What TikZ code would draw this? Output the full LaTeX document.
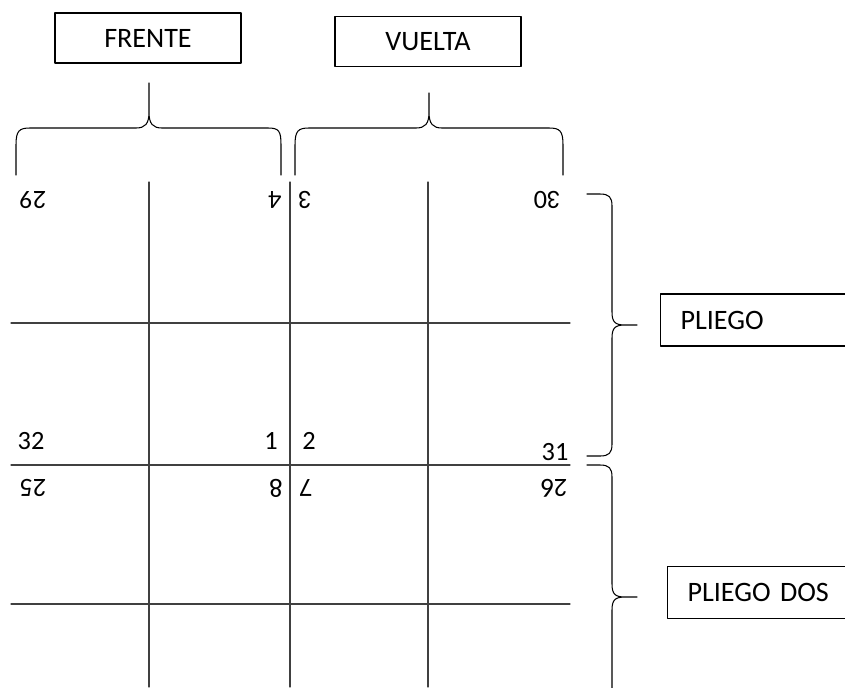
\documentclass[tikz,border=0pt]{standalone}
\usepackage{fontspec}
\setmainfont{Carlito}
\begin{document}
\begin{tikzpicture}[x=0.02cm, y=-0.02cm, line join=round, line cap=round,
  caja/.style={draw, line width=0.6pt, minimum width=3.72cm, minimum height=1cm, font=\fontsize{16}{19}\selectfont},
  lateral/.style={draw, line width=0.6pt, minimum height=1.04cm, text width=4cm, align=left, inner xsep=0.4cm, anchor=west, font=\fontsize{16}{19}\selectfont},
  num/.style={font=\fontsize{15}{18}\selectfont, inner sep=0pt},
  inv/.style={num, rotate=180},
  corchete/.style={line width=0.6pt},
  linea/.style={line width=0.7pt, black!75}]
\useasboundingbox (0,0) rectangle (845,687);
% cajas
\node[caja] (frente) at (148,38) {FRENTE};
\node[caja] (vuelta) at (428,41.5) {VUELTA};
\node[lateral] (pliego) at (660,320) {PLIEGO};
\node[lateral] (pliegodos) at (667,592.5) {PLIEGO DOS};
% llaves de arriba
\draw[corchete] (16,175) -- (16,145) .. controls (16,131) and (19,128) .. (30,128) -- (136,128) .. controls (145,128) and (149,124) .. (149,112) -- (149,83) -- (149,112) .. controls (149,124) and (153,128) .. (162,128) -- (268,128) .. controls (279,128) and (281,131) .. (281,145) -- (281,175);
\draw[corchete] (295,175) -- (295,145) .. controls (295,131) and (298,128) .. (309,128) -- (416,128) .. controls (425,128) and (429,124) .. (429,112) -- (429,93) -- (429,112) .. controls (429,124) and (433,128) .. (442,128) -- (549,128) .. controls (560,128) and (563,131) .. (563,145) -- (563,175);
% llaves de la derecha
\draw[corchete] (587,194) -- (600,194) .. controls (609,194) and (612,197) .. (612,206) -- (612,312) .. controls (612,322) and (615,325) .. (625,325) -- (637,325) -- (625,325) .. controls (615,325) and (612,328) .. (612,338) -- (612,444) .. controls (612,453) and (609,456) .. (600,456) -- (587,456);
\draw[corchete] (587,465) -- (600,465) .. controls (609,465) and (612,468) .. (612,477) -- (612,584) .. controls (612,594) and (615,597) .. (625,597) -- (637,597) -- (625,597) .. controls (615,597) and (612,600) .. (612,610) -- (612,717) .. controls (612,726) and (609,729) .. (600,729) -- (587,729);
% pliegos
\foreach \x in {149,290,428} \draw[linea] (\x,182) -- (\x,687);
\foreach \y in {323,465,604} \draw[linea] (11,\y) -- (570,\y);
% paginas
\node[inv] (p29) at (33,200) {29};
\node[inv] (p4) at (275,200) {4};
\node[inv] (p3) at (305,200) {3};
\node[inv] (p30) at (547,200) {30};
\node[num] (p32) at (31,441) {32};
\node[num] (p1) at (271,441) {1};
\node[num] (p2) at (309,441) {2};
\node[num] (p31) at (555,452) {31};
\node[inv] (p25) at (33,488) {25};
\node[inv] (p8) at (276,488) {8};
\node[inv] (p7) at (306,488) {7};
\node[inv] (p26) at (554,488) {26};
\end{tikzpicture}
\end{document}
